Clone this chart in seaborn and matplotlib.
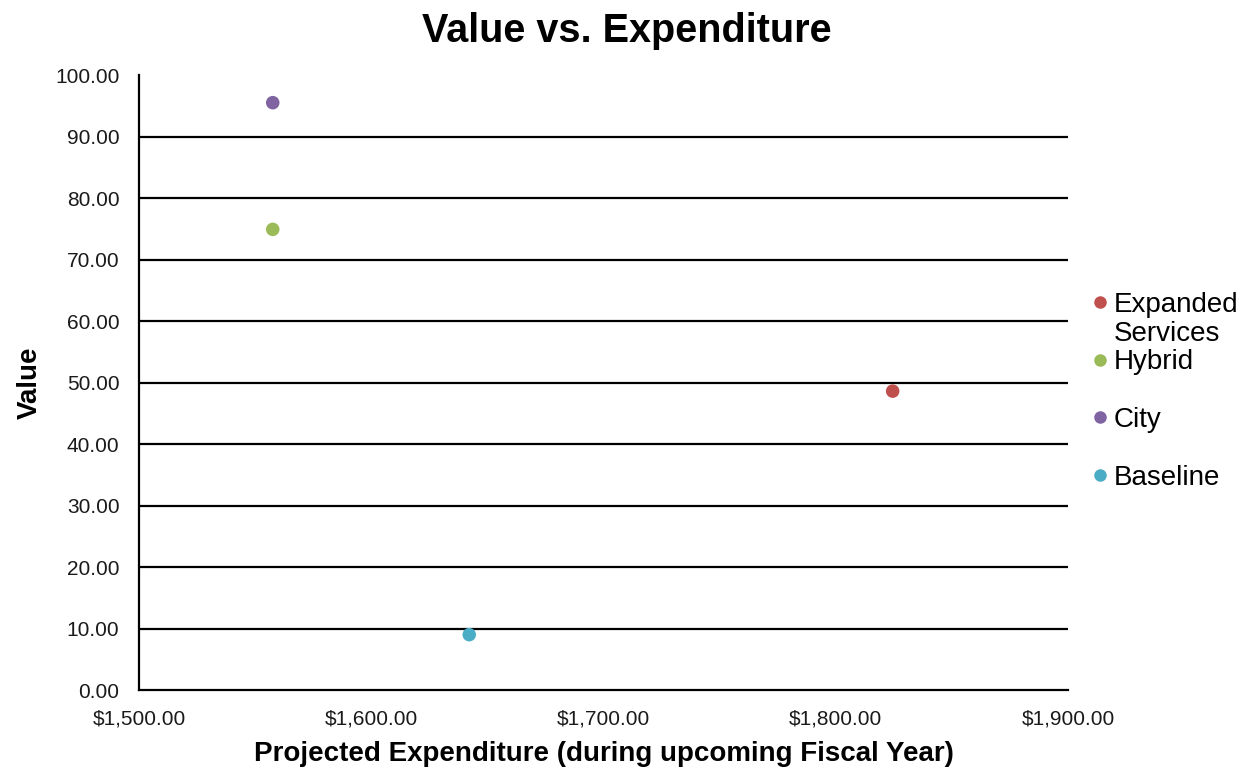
import matplotlib
matplotlib.use("Agg")
import matplotlib.pyplot as plt
import seaborn as sns
import pandas as pd
from matplotlib.ticker import FuncFormatter, MultipleLocator

scenarios = ["Expanded Services", "Hybrid", "City", "Baseline"]
expenditure = [1824.5, 1557.6, 1557.6, 1642.2]
value = [48.6, 74.9, 95.5, 9.0]
colors = ["#C0504D", "#9BBB59", "#8064A2", "#4BACC6"]

df = pd.DataFrame({"Scenario": scenarios, "Expenditure": expenditure, "Value": value})

sns.set_theme(style="white")
plt.rcParams["font.family"] = ["Liberation Sans", "DejaVu Sans"]
plt.rcParams["text.color"] = "black"

fig = plt.figure(figsize=(12.54, 7.74), dpi=100)
ax = fig.add_axes([0.1108, 0.1085, 0.8517 - 0.1108, 0.9031 - 0.1085])

sns.scatterplot(data=df, x="Expenditure", y="Value", hue="Scenario",
                hue_order=scenarios, palette=colors, s=95, edgecolor="none",
                ax=ax, legend=False, zorder=3)

ax.set_xlim(1500, 1900)
ax.set_ylim(0, 100)
ax.xaxis.set_major_locator(MultipleLocator(100))
ax.yaxis.set_major_locator(MultipleLocator(10))
ax.xaxis.set_major_formatter(FuncFormatter(lambda v, p: f"${v:,.2f}"))
ax.yaxis.set_major_formatter(FuncFormatter(lambda v, p: f"{v:.2f}"))

# horizontal gridlines at 10..90
for yv in range(10, 100, 10):
    ax.axhline(yv, color="black", lw=1.6, zorder=1)

for side in ["top", "right"]:
    ax.spines[side].set_visible(False)
for side in ["left", "bottom"]:
    ax.spines[side].set_color("black")
    ax.spines[side].set_linewidth(1.6)

ax.tick_params(axis="both", length=0, labelsize=15, colors="#1a1a1a")
ax.tick_params(axis="y", pad=14)
ax.tick_params(axis="x", pad=14)
ax.set_xlabel("Projected Expenditure (during upcoming Fiscal Year)",
              fontsize=20, fontweight="bold", labelpad=9, color="black")
ax.set_ylabel("Value", fontsize=20, fontweight="bold", labelpad=9, color="black")
fig.suptitle("Value vs. Expenditure", fontsize=28.5, fontweight="bold",
             y=0.985, color="black")

# legend: one entry per scenario, the first label wraps onto a second line
handles = [plt.Line2D([], [], marker="o", ls="", color=c, markersize=8) for c in colors]
labels = ["Expanded", "Hybrid", "City", "Baseline"]
leg = fig.legend(handles, labels, loc="upper left", bbox_to_anchor=(0.856, 0.641),
                 frameon=False, fontsize=20, handletextpad=0.05, handlelength=0.9,
                 labelspacing=1.14, borderpad=0)
fig.canvas.draw()
first = leg.get_texts()[0]
bb = first.get_window_extent()
x0, y0 = fig.transFigure.inverted().transform((bb.x0, bb.y0))
fig.text(x0, y0 - 3 / 774, "Services", fontsize=20, ha="left", va="top", color="black")

fig.savefig("out.png", dpi=100)
